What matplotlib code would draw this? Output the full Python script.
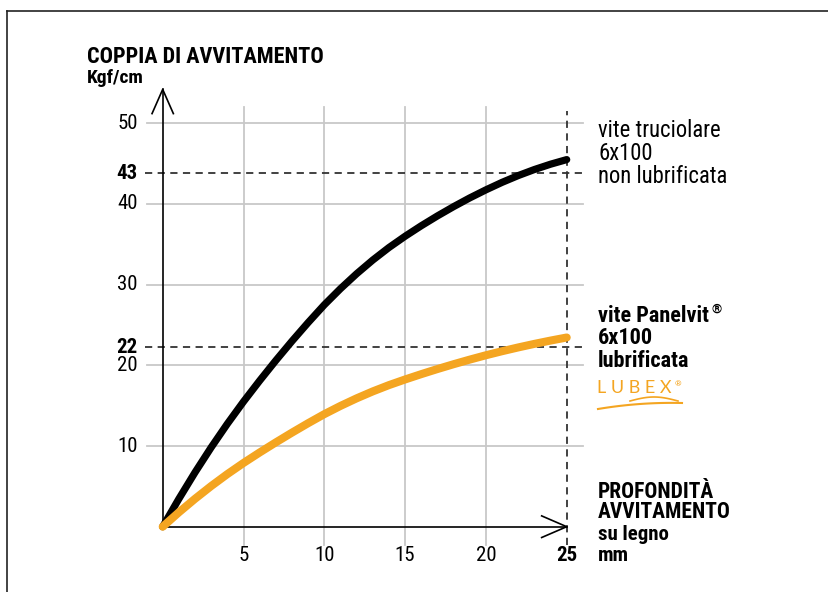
import numpy as np
import matplotlib
matplotlib.use("Agg")
import matplotlib.pyplot as plt
from matplotlib.lines import Line2D

# dati
profondita = list(range(0, 26))
vite_truciolare = [0, 3.45, 6.73, 9.83, 12.75, 15.5, 18.1, 20.6, 23.0, 25.3, 27.5,
                   29.5, 31.35, 33.05, 34.6, 36.0, 37.3, 38.52, 39.67, 40.75,
                   41.75, 42.68, 43.52, 44.27, 44.93, 45.5]
vite_panelvit = [0, 1.78, 3.46, 5.04, 6.52, 7.9, 9.2, 10.45, 11.66, 12.83, 13.95,
                 14.97, 15.91, 16.77, 17.55, 18.25, 18.91, 19.54, 20.14, 20.71,
                 21.25, 21.75, 22.22, 22.66, 23.07, 23.45]

x_ticks = [5, 10, 15, 20]
y_ticks = [10, 20, 30, 40, 50]
x_fine = 25
rif_livelli = [43.8, 22.25]      # posizione delle linee tratteggiate
rif_etichette = ["43", "22"]

NERO = "#000000"
ARANCIO = "#F4A521"
GRIGIO = "#c8c8c8"
TRATTEGGIO = "#333333"

FONT = ["Roboto Condensed", "Archivo Narrow", "Liberation Sans", "DejaVu Sans"]
plt.rcParams["font.family"] = FONT

W, H = 829, 592
fig = plt.figure(figsize=(W / 100, H / 100), dpi=100)


def px(x, y):
    return x / W, 1 - y / H


# cornice
fig.add_artist(Line2D([7 / W, 1], [1 - 11 / H, 1 - 11 / H], color="#222222", lw=1.2))
fig.add_artist(Line2D([7 / W, 7 / W], [0, 1 - 11 / H], color="#222222", lw=1.2))

ax = fig.add_axes([130 / W, 32 / H, 470 / W, 480 / H])
ax.set_xlim(-2.0235, 27.06)
ax.set_ylim(-4.127, 55.366)
ax.axis("off")

# griglia
for xv in x_ticks:
    ax.plot([xv, xv], [-2.3, 52.0], color=GRIGIO, lw=1.3, zorder=1, clip_on=False)
for yv in y_ticks:
    ax.plot([-1.0, 26.0], [yv, yv], color=GRIGIO, lw=1.3, zorder=1, clip_on=False)

# linee di riferimento tratteggiate
for lv in rif_livelli:
    ax.plot([-1.1, 26.0], [lv, lv], color=TRATTEGGIO, lw=1.3, ls=(0, (4, 3)),
            zorder=2, clip_on=False)
ax.plot([x_fine, x_fine], [-2.3, 51.5], color=TRATTEGGIO, lw=1.3, ls=(0, (4, 3)),
        zorder=2, clip_on=False)

# assi con frecce aperte
ax.plot([0, 0], [0, 54.2], color=NERO, lw=1.2, zorder=3, clip_on=False)
ax.plot([-0.66, 0, 0.66], [51.2, 54.2, 51.2], color=NERO, lw=1.2, zorder=3,
        clip_on=False)
ax.plot([0, x_fine], [0, 0], color=NERO, lw=1.2, zorder=3, clip_on=False)
ax.plot([x_fine - 1.55, x_fine, x_fine - 1.55], [1.34, 0, -1.34], color=NERO,
        lw=1.2, zorder=3, clip_on=False)

# curve
ax.plot(profondita, vite_truciolare, color=NERO, lw=5.2, solid_capstyle="round",
        solid_joinstyle="round", zorder=4, clip_on=False)
ax.plot(profondita, vite_panelvit, color=ARANCIO, lw=5.8, solid_capstyle="round",
        solid_joinstyle="round", zorder=5, clip_on=False)

# etichette asse y
for yv in y_ticks:
    ax.text(-1.55, yv, str(yv), ha="right", va="center", fontsize=15)
for lv, lab in zip(rif_livelli, rif_etichette):
    ax.text(-1.55, lv, lab, ha="right", va="center", fontsize=15, fontweight="black")

# etichette asse x
for xv in x_ticks:
    ax.text(xv, -4.2, str(xv), ha="center", va="baseline", fontsize=15)
ax.text(x_fine, -4.2, str(x_fine), ha="center", va="baseline", fontsize=15,
        fontweight="black")

# titoli
fig.text(*px(87, 63), "COPPIA DI AVVITAMENTO", fontsize=16, fontweight="bold",
         va="baseline")
fig.text(*px(87, 83), "Kgf/cm", fontsize=14, fontweight="bold", va="baseline")

fig.text(*px(598, 498), "PROFONDITÀ", fontsize=15.5, fontweight="bold", va="baseline")
fig.text(*px(598, 518), "AVVITAMENTO", fontsize=15.5, fontweight="bold", va="baseline")
fig.text(*px(598, 540), "su legno", fontsize=15, fontweight="bold", va="baseline")
fig.text(*px(598, 561), "mm", fontsize=15, fontweight="bold", va="baseline")

# legenda a destra
for i, riga in enumerate(["vite truciolare", "6x100", "non lubrificata"]):
    fig.text(*px(598, 137 + 23 * i), riga, fontsize=16.3, va="baseline")
t_pan = fig.text(*px(598, 322), "vite Panelvit", fontsize=16, fontweight="bold",
                 va="baseline")
ax.annotate("®", xy=(1, 1), xycoords=t_pan, xytext=(1.5, 1.5), textcoords="offset points",
            fontsize=9.5, fontweight="bold", ha="left", va="top", annotation_clip=False)
fig.text(*px(598, 344), "6x100", fontsize=16, fontweight="bold", va="baseline")
fig.text(*px(598, 367), "lubrificata", fontsize=16, fontweight="bold", va="baseline")

# logo LUBEX
t_lub = fig.text(*px(597, 393), "L U B E X", fontsize=13, color=ARANCIO, va="baseline",
                 family=["Lato", "DejaVu Sans"])
ax.annotate("®", xy=(1, 1), xycoords=t_lub, xytext=(2, -1), textcoords="offset points",
            fontsize=6, color=ARANCIO, ha="left", va="top", annotation_clip=False)
t = np.linspace(0, 1, 40)
sx = 598 + 84 * t
sy = 409 - 14 * t + 8 * t ** 2
fig.add_artist(Line2D(sx / W, 1 - sy / H, color=ARANCIO, lw=1.5))
t2 = np.linspace(0, 1, 30)
fig.add_artist(Line2D((630 + 48 * t2) / W, 1 - (401 - 4 * np.sin(np.pi * t2)) / H,
                      color=ARANCIO, lw=1.2))

fig.savefig("out.png", dpi=100)
